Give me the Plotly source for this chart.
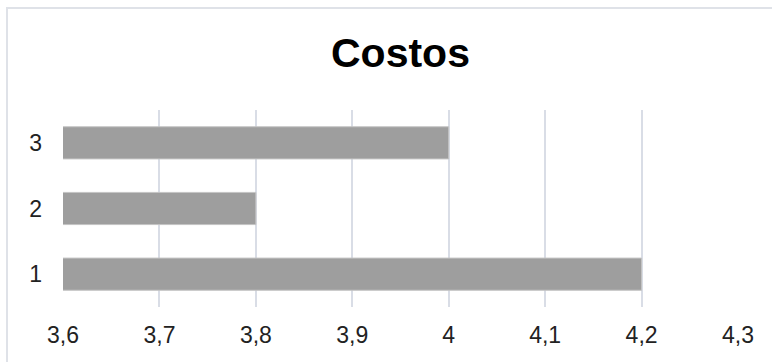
import plotly.graph_objects as go

# Cost figures per item
categories = ["1", "2", "3"]
costs = [4.2, 3.8, 4.0]
x_ticks = [3.6, 3.7, 3.8, 3.9, 4.0, 4.1, 4.2, 4.3]

W, H = 772, 362
L, R, T, B = 63, 34, 110, 55
pw, ph = W - L - R, H - T - B

fig = go.Figure()
fig.add_trace(go.Bar(
    y=categories,
    x=costs,
    orientation="h",
    marker=dict(color="#9e9e9e", line=dict(color="#c4c4c4", width=1)),
    width=0.49,
))

fig.update_layout(
    width=W,
    height=H,
    margin=dict(l=L, r=R, t=T, b=B),
    paper_bgcolor="white",
    plot_bgcolor="white",
    separators=",.",
    showlegend=False,
    font=dict(family="Liberation Sans, Arial, sans-serif", color="#222222"),
    title=dict(
        text="<b>Costos</b>",
        x=0.5,
        xref="paper",
        xanchor="center",
        y=1 - 53 / H,
        yanchor="middle",
        font=dict(size=41, color="black"),
    ),
    xaxis=dict(
        range=[3.6, 4.3],
        tickvals=x_ticks,
        showgrid=True,
        gridcolor="#d9dde6",
        gridwidth=1.5,
        zeroline=False,
        showline=False,
        ticks="",
        ticklabelstandoff=12,
        tickfont=dict(size=23, color="#222222"),
        fixedrange=True,
    ),
    yaxis=dict(
        type="category",
        categoryorder="array",
        categoryarray=categories,
        range=[-0.5, 2.5],
        showgrid=False,
        zeroline=False,
        showline=False,
        ticks="",
        ticklabelstandoff=20,
        tickfont=dict(size=23, color="#222222"),
        fixedrange=True,
    ),
    shapes=[
        dict(
            type="rect",
            xref="paper",
            yref="paper",
            x0=(7 - L) / pw,
            x1=(W + 20 - L) / pw,
            y0=-(B + 20) / ph,
            y1=1 + (T - 8) / ph,
            line=dict(color="#dfe2e8", width=2),
            fillcolor="rgba(0,0,0,0)",
            layer="below",
        )
    ],
)

fig.write_html("out.html")
